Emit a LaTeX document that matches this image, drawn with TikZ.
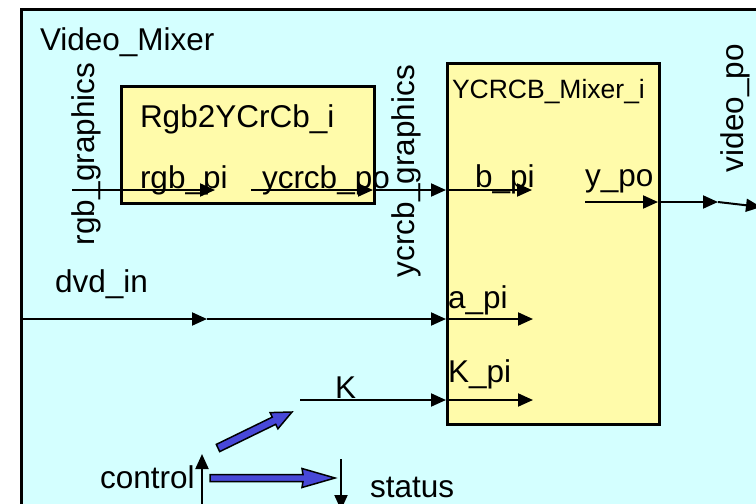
\documentclass[tikz,border=0pt]{standalone}
\usepackage{fontspec}
\setmainfont{Liberation Sans}
\usetikzlibrary{arrows.meta}
\definecolor{bgcyan}{RGB}{212,255,255}
\definecolor{boxyellow}{RGB}{255,251,170}
\definecolor{arrowblue}{RGB}{72,72,216}
\tikzset{
  lbl/.style={anchor=base west, inner sep=0pt, outer sep=0pt, font=\fontsize{31.5}{36}\selectfont},
  vlbl/.style={lbl, rotate=90},
  blk/.style={draw=black, line width=2.5pt, fill=boxyellow, anchor=north west, inner sep=0pt},
  wire/.style={line width=2pt, -{Triangle[length=15pt,width=13pt]}},
  fatarrow/.style={draw=black, line width=1.5pt, fill=arrowblue, line join=miter},
}
\begin{document}
\begin{tikzpicture}[x=1pt,y=-1pt]
\useasboundingbox (0,0) rectangle (756,504);
\clip (0,0) rectangle (756,504);
% outer block
\node[draw=black, line width=2.5pt, fill=bgcyan, anchor=north west, inner sep=0pt,
      minimum width=800pt, minimum height=560pt] (mixer) at (20,8) {};
\node[lbl] (mixername) at (40,50) {Video\_Mixer};
% inner blocks
\node[blk, minimum width=253pt, minimum height=117pt] (rgbbox) at (120,85) {};
\node[blk, minimum width=212pt, minimum height=361pt] (ybox) at (446,62) {};
\node[lbl] (rgbname) at (140,127) {Rgb2YCrCb\_i};
\node[lbl, font=\fontsize{26.5}{30}\selectfont] (yname) at (452,98) {YCRCB\_Mixer\_i};
% port labels
\node[lbl] (rgbpi) at (140,188) {rgb\_pi};
\node[lbl] (ycrcbpo) at (262,188) {ycrcb\_po};
\node[lbl] (bpi) at (475,187) {b\_pi};
\node[lbl] (ypo) at (585,186) {y\_po};
\node[lbl] (api) at (448,308) {a\_pi};
\node[lbl] (kpi) at (448,382) {K\_pi};
% net labels
\node[vlbl] (rgbg) at (94,245) {rgb\_graphics};
\node[vlbl] (ycg) at (414,277) {ycrcb\_graphics};
\node[vlbl] (vpo) at (743,172) {video\_po};
\node[lbl] (dvd) at (55,292) {dvd\_in};
\node[lbl] (klbl) at (335,398) {K};
\node[lbl] (ctrl) at (100,488) {control};
\node[lbl] (stat) at (370,497) {status};
% connector points
\coordinate (rgbin) at (72,190);
\coordinate (rgbport) at (215,190);
\coordinate (ycpo0) at (251,190);
\coordinate (ycpo1) at (373,190);
\coordinate (bin) at (446,190);
\coordinate (bport) at (532,190);
\coordinate (ypo0) at (585,202);
\coordinate (ypo1) at (658,202);
\coordinate (vmid) at (718,202);
\coordinate (vout) at (761,207);
\coordinate (dvd0) at (20,319);
\coordinate (dvdmid) at (207,319);
\coordinate (ain) at (446,319);
\coordinate (aport) at (533,319);
\coordinate (k0) at (300,400);
\coordinate (kin) at (446,400);
\coordinate (kport) at (533,400);
\coordinate (ctrl0) at (202,530);
\coordinate (ctrl1) at (202,454);
\coordinate (stat0) at (341,459);
\coordinate (stat1) at (341,510);
% wires
\draw[wire] (rgbin) -- (rgbport);
\draw[wire] (ycpo0) -- (ycpo1);
\draw[wire] (ycpo1) -- (bin);
\draw[wire] (bin) -- (bport);
\draw[wire] (ypo0) -- (ypo1);
\draw[wire] (ypo1) -- (vmid);
\draw[wire] (vmid) -- (vout);
\draw[wire] (dvd0) -- (dvdmid);
\draw[wire] (dvdmid) -- (ain);
\draw[wire] (ain) -- (aport);
\draw[wire] (k0) -- (kin);
\draw[wire] (kin) -- (kport);
\draw[wire] (ctrl0) -- (ctrl1);
\draw[wire] (stat0) -- (stat1);
% blue block arrows
\draw[fatarrow] (219.7,451.6) -- (275.7,424.3) -- (277.9,428.8) -- (292,412)
  -- (270.1,412.6) -- (272.3,417.1) -- (216.3,444.4) -- cycle;
\draw[fatarrow] (210,474.5) -- (303,474.5) -- (302,468.5) -- (335,478)
  -- (302,487.5) -- (303,481.5) -- (210,481.5) -- cycle;
\end{tikzpicture}
\end{document}
